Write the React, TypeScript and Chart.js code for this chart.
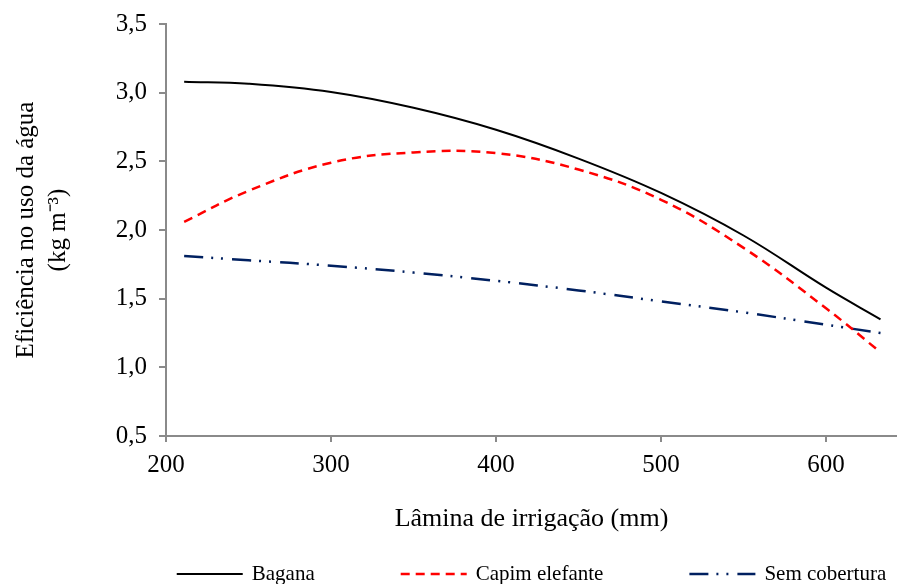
import React, { useEffect, useRef } from "react";
import { Chart, registerables } from "chart.js";

Chart.register(...registerables);

const laminas = [211, 250, 300, 350, 400, 450, 500, 550, 600, 633];
const bagana = [3.08, 3.065, 3.005, 2.89, 2.73, 2.52, 2.27, 1.96, 1.58, 1.35];
const capimElefante = [2.06, 2.285, 2.49, 2.565, 2.56, 2.44, 2.22, 1.87, 1.43, 1.11];
const semCobertura = [1.81, 1.78, 1.74, 1.69, 1.63, 1.56, 1.48, 1.4, 1.31, 1.25];
const xTicks = [200, 300, 400, 500, 600];
const seriesLabels = ["Bagana", "Capim elefante", "Sem cobertura"];

const FONT = '"Liberation Serif", "Times New Roman", serif';
const AXIS_GRAY = "#8a8a8a";

const toPoints = (ys: number[]) => laminas.map((x, i) => ({ x, y: ys[i] }));

const bottomLegend = {
  id: "bottomLegend",
  afterDraw(chart: any) {
    const { ctx, chartArea } = chart;
    const datasets = chart.data.datasets;
    ctx.save();
    ctx.font = `21px ${FONT}`;
    const lineW = 66;
    const gapText = 9;
    const gapItem = 86;
    const widths = datasets.map((d: any) => ctx.measureText(d.label).width);
    let total = 0;
    widths.forEach((w: number) => (total += lineW + gapText + w));
    total += gapItem * (datasets.length - 1);
    let x = (chartArea.left + chartArea.right) / 2 - total / 2;
    const y = chart.height - 10;
    datasets.forEach((d: any, i: number) => {
      ctx.beginPath();
      ctx.setLineDash(d.borderDash || []);
      ctx.lineWidth = d.borderWidth;
      ctx.strokeStyle = d.borderColor;
      ctx.lineCap = "butt";
      ctx.moveTo(x, y);
      ctx.lineTo(x + lineW, y);
      ctx.stroke();
      ctx.setLineDash([]);
      ctx.fillStyle = "#000";
      ctx.textBaseline = "middle";
      ctx.textAlign = "left";
      ctx.fillText(d.label, x + lineW + gapText, y);
      x += lineW + gapText + widths[i] + gapItem;
    });
    ctx.restore();
  },
};

export default function App() {
  const canvasRef = useRef<HTMLCanvasElement | null>(null);

  useEffect(() => {
    if (!canvasRef.current) return;
    const chart = new Chart(canvasRef.current, {
      type: "line",
      data: {
        datasets: [
          {
            label: seriesLabels[0],
            data: toPoints(bagana),
            borderColor: "#000000",
            borderWidth: 2,
            pointRadius: 0,
            tension: 0.4,
            fill: false,
          },
          {
            label: seriesLabels[1],
            data: toPoints(capimElefante),
            borderColor: "#ff0000",
            borderWidth: 2.5,
            borderDash: [9, 6],
            pointRadius: 0,
            tension: 0.4,
            fill: false,
          },
          {
            label: seriesLabels[2],
            data: toPoints(semCobertura),
            borderColor: "#002060",
            borderWidth: 2.5,
            borderDash: [19, 8, 2, 8, 2, 9],
            pointRadius: 0,
            tension: 0.4,
            fill: false,
          },
        ],
      },
      options: {
        animation: false,
        responsive: true,
        maintainAspectRatio: false,
        layout: { padding: { top: 24, bottom: 48, left: 0, right: 0 } },
        plugins: {
          legend: { display: false },
          tooltip: { enabled: false },
        },
        scales: {
          x: {
            type: "linear",
            min: 200,
            max: 643,
            afterBuildTicks: (scale: any) => {
              scale.ticks = xTicks.map((v) => ({ value: v }));
            },
            afterFit: (scale: any) => {
              scale.height = 100;
              scale.paddingLeft = 0;
              scale.paddingRight = 0;
            },
            grid: {
              drawOnChartArea: false,
              drawTicks: true,
              tickLength: 6,
              color: AXIS_GRAY,
              lineWidth: 2,
            },
            border: { display: true, color: AXIS_GRAY, width: 2 },
            ticks: {
              color: "#000",
              font: { family: FONT, size: 25 },
              padding: 8,
              maxRotation: 0,
              autoSkip: false,
              callback: (v: any) => String(v),
            },
            title: {
              display: true,
              text: "Lâmina de irrigação (mm)",
              color: "#000",
              font: { family: FONT, size: 26 },
              padding: { top: 0, bottom: 1 },
            },
          },
          y: {
            type: "linear",
            min: 0.5,
            max: 3.5,
            afterFit: (scale: any) => {
              scale.width = 166;
              scale.paddingTop = 0;
              scale.paddingBottom = 0;
            },
            grid: {
              drawOnChartArea: false,
              drawTicks: true,
              tickLength: 7,
              color: AXIS_GRAY,
              lineWidth: 2,
            },
            border: { display: true, color: AXIS_GRAY, width: 2 },
            ticks: {
              stepSize: 0.5,
              color: "#000",
              font: { family: FONT, size: 25 },
              padding: 12,
              callback: (v: any) => Number(v).toFixed(1).replace(".", ","),
            },
            title: {
              display: true,
              text: ["Eficiência no uso da água", "(kg m\u207B\u00B3)"],
              color: "#000",
              font: { family: FONT, size: 25, lineHeight: 1.3 },
              padding: { top: 10, bottom: 0 },
            },
          },
        },
      },
      plugins: [bottomLegend],
    });
    return () => chart.destroy();
  }, []);

  return (
    <div style={{ position: "absolute", left: 0, top: 0, width: 897, height: 584, background: "#fff" }}>
      <canvas ref={canvasRef} />
    </div>
  );
}
